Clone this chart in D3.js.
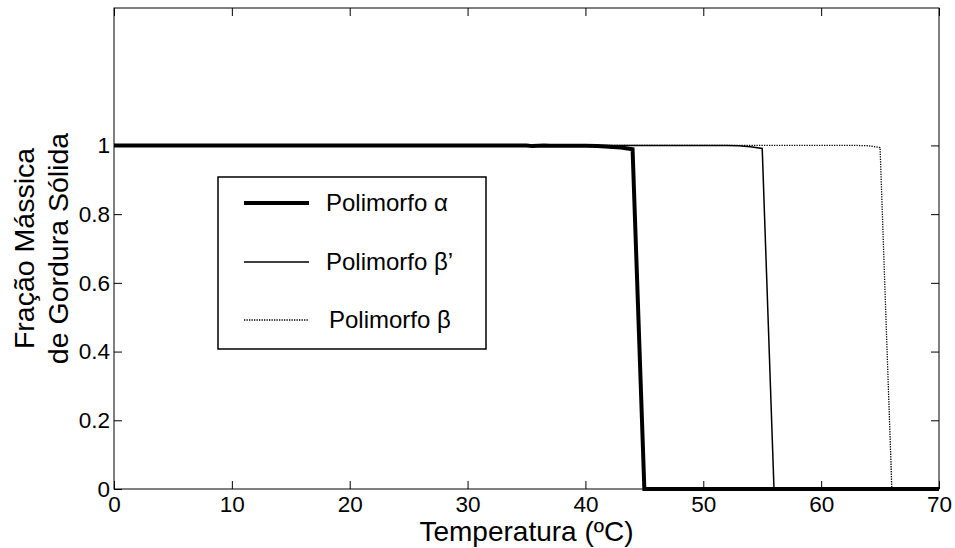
<!DOCTYPE html>
<html>
<head>
<meta charset="utf-8">
<script src="https://cdn.jsdelivr.net/npm/d3@7"></script>
<style>
  html, body { margin: 0; padding: 0; background: #fff; }
  svg { display: block; }
  text { font-family: "Liberation Sans", Arial, Helvetica, sans-serif; fill: #000; }
</style>
</head>
<body>
<svg id="chart" width="955" height="548"></svg>
<script>
// ---- data ----
const alphaT = [0, 10, 20, 30, 35, 35.5, 36, 36.5, 37, 38, 39, 40, 41, 42, 43, 44, 45, 50, 60, 70];
const alphaY = [1, 1, 1, 1, 1, 0.998, 0.999, 1, 0.999, 0.999, 0.999, 0.999, 0.998, 0.996, 0.994, 0.989, 0, 0, 0, 0];
const betaPT = [0, 10, 20, 30, 40, 45, 50, 52, 53, 54, 55, 56, 60, 70];
const betaPY = [1, 1, 1, 1, 1, 1, 1, 1, 0.999, 0.996, 0.991, 0, 0, 0];
const betaT  = [0, 10, 20, 30, 40, 50, 60, 63, 64, 65, 66, 70];
const betaY  = [1, 1, 1, 1, 1, 1, 1, 1, 0.999, 0.994, 0, 0];
const seriesNames = ["Polimorfo α", "Polimorfo β’", "Polimorfo β"];
const xTicks = [0, 10, 20, 30, 40, 50, 60, 70];
const yTicks = [0, 0.2, 0.4, 0.6, 0.8, 1];
const yTickLabels = ["0", "0.2", "0.4", "0.6", "0.8", "1"];
const xTitle = "Temperatura (ºC)";
const yTitleLines = ["Fração Mássica", "de Gordura Sólida"];

// ---- layout ----
const W = 955, H = 548;
const margin = { left: 114, top: 8, right: 16, bottom: 59 };
const iw = W - margin.left - margin.right;
const ih = H - margin.top - margin.bottom;

const svg = d3.select("#chart");
const g = svg.append("g").attr("transform", `translate(${margin.left},${margin.top})`);

const x = d3.scaleLinear().domain([0, 70]).range([0, iw]);
const y = d3.scaleLinear().domain([0, 1.4]).range([ih, 0]);

const tickFont = 22.5;

// axes
const xb = g.append("g").attr("transform", `translate(0,${ih})`)
  .call(d3.axisBottom(x).tickValues(xTicks).tickFormat(d3.format("d")).tickSizeInner(-8).tickSizeOuter(0).tickPadding(7));
const xt = g.append("g")
  .call(d3.axisTop(x).tickValues(xTicks).tickFormat("").tickSizeInner(-8).tickSizeOuter(0));
const yl = g.append("g")
  .call(d3.axisLeft(y).tickValues(yTicks).tickFormat((d, i) => yTickLabels[i]).tickSizeInner(-8).tickSizeOuter(0).tickPadding(4));
const yr = g.append("g").attr("transform", `translate(${iw},0)`)
  .call(d3.axisRight(y).tickValues(yTicks).tickFormat("").tickSizeInner(-8).tickSizeOuter(0));

[xb, xt, yl, yr].forEach(a => {
  a.select(".domain").remove();
  a.selectAll(".tick line").attr("stroke", "#000").attr("stroke-width", 1);
  a.selectAll(".tick text").attr("font-size", tickFont)
    .attr("font-family", '"Liberation Sans", Arial, Helvetica, sans-serif').attr("fill", "#000");
});

// frame
g.append("rect").attr("x", 0).attr("y", 0).attr("width", iw).attr("height", ih)
  .attr("fill", "none").attr("stroke", "#000").attr("stroke-width", 1);

// lines
const line = d3.line().x(d => x(d[0])).y(d => y(d[1]));
const zip = (a, b) => a.map((v, i) => [v, b[i]]);

const styles = [
  { w: 4, dash: null },
  { w: 1.5, dash: null },
  { w: 1.3, dash: "1.3,1.2" }
];
const data = [zip(alphaT, alphaY), zip(betaPT, betaPY), zip(betaT, betaY)];

[2, 1, 0].forEach(i => {
  g.append("path").datum(data[i])
    .attr("d", line)
    .attr("fill", "none")
    .attr("stroke", "#000")
    .attr("stroke-width", styles[i].w)
    .attr("stroke-dasharray", styles[i].dash)
    .attr("stroke-linejoin", "miter");
});

// legend
const leg = svg.append("g");
leg.append("rect").attr("x", 218).attr("y", 177).attr("width", 268).attr("height", 172)
  .attr("fill", "#fff").attr("stroke", "#000").attr("stroke-width", 1.5);
const legY = [203, 262, 320];
const legTX = [326, 326, 329];
seriesNames.forEach((name, i) => {
  leg.append("line").attr("x1", 244).attr("x2", 309).attr("y1", legY[i]).attr("y2", legY[i])
    .attr("stroke", "#000").attr("stroke-width", styles[i].w)
    .attr("stroke-dasharray", styles[i].dash);
  leg.append("text").attr("x", legTX[i]).attr("y", legY[i]).attr("dy", "0.35em")
    .attr("font-size", 24).text(name);
});

// titles
svg.append("text").attr("x", margin.left + iw / 2).attr("y", 541)
  .attr("text-anchor", "middle").attr("font-size", 28).text(xTitle);

const yt = svg.append("g").attr("transform", `translate(0,${margin.top + ih / 2}) rotate(-90)`);
yTitleLines.forEach((t, i) => {
  yt.append("text").attr("x", 0).attr("y", 34 + i * 33.5)
    .attr("text-anchor", "middle").attr("font-size", 28.5).text(t);
});
</script>
</body>
</html>
